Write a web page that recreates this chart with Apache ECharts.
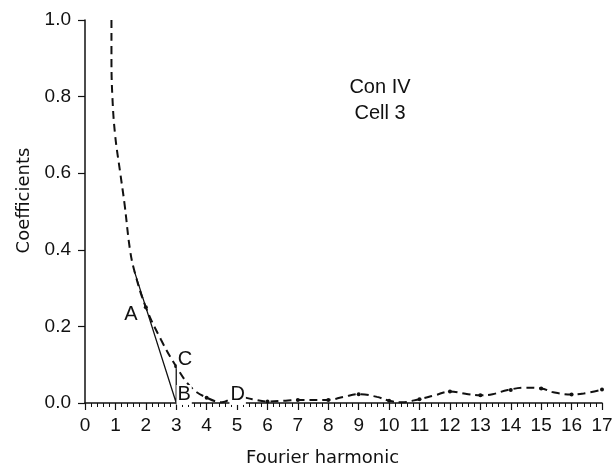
<!DOCTYPE html>
<html>
<head>
  <meta charset="utf-8" />
  <title>Fourier harmonic coefficients</title>
  <script src="https://cdn.jsdelivr.net/npm/echarts@6/dist/echarts.min.js"></script>
</head>
<style>
  html, body { margin: 0; padding: 0; background: #fff; }
  #chart { width: 616px; height: 468px; }
</style>
<body>
  <div id="chart"></div>
  <script>
    // dashed curve (harmonic, coefficient)
    var curveX = [0.87, 0.87, 0.9, 0.99, 1.16, 1.3, 1.48, 1.64, 2.0, 2.5, 3.0, 3.5, 4.0, 4.5, 5.0, 5.5, 6.0, 6.6, 7.0, 8.0, 8.5, 9.0, 9.6, 10.0, 10.4, 11.0, 11.5, 12.0, 12.6, 13.0, 13.4, 13.9, 14.5, 15.0, 15.4, 16.0, 16.4, 17.0];
    var curveY = [1.0, 0.9, 0.8, 0.7, 0.6, 0.52, 0.4, 0.34, 0.25, 0.165, 0.095, 0.04, 0.014, 0.002, 0.017, 0.01, 0.004, 0.006, 0.008, 0.008, 0.016, 0.023, 0.016, 0.006, 0.002, 0.01, 0.02, 0.03, 0.023, 0.02, 0.023, 0.034, 0.04, 0.038, 0.028, 0.022, 0.025, 0.035];
    // small dots on the curve
    var dotX = [2, 3, 4, 6, 7, 8, 9, 10, 11, 12, 13, 14, 15, 16, 17];
    var dotY = [0.25, 0.095, 0.014, 0.004, 0.008, 0.008, 0.023, 0.006, 0.01, 0.03, 0.02, 0.034, 0.038, 0.022, 0.035];
    // solid straight-line construction
    var lineX = [1.62, 3.0, 3.0];
    var lineY = [0.345, 0.0, 0.09];
    // letter labels
    var labelNames = ['A', 'B', 'C', 'D'];
    var labelX = [1.51, 3.26, 3.29, 5.02];
    var labelY = [0.231, 0.021, 0.114, 0.021];
    var xTicks = [0, 1, 2, 3, 4, 5, 6, 7, 8, 9, 10, 11, 12, 13, 14, 15, 16, 17];

    function pairs(xs, ys) {
      return xs.map(function (x, i) { return [x, ys[i]]; });
    }

    var font = 'Liberation Sans, Arial, sans-serif';
    var wideFont = 'DejaVu Sans, sans-serif';
    var chart = echarts.init(document.getElementById('chart'), null, { renderer: 'canvas' });

    chart.setOption({
      animation: false,
      backgroundColor: '#fff',
      grid: { left: 85, right: 14, top: 20, bottom: 65, containLabel: false, outerBoundsMode: 'none' },
      xAxis: {
        type: 'value',
        min: xTicks[0],
        max: xTicks[xTicks.length - 1],
        interval: 1,
        name: 'Fourier harmonic',
        nameLocation: 'middle',
        nameGap: 46,
        nameTextStyle: { fontFamily: wideFont, fontSize: 18, color: '#111', padding: [0, 42, 0, 0] },
        axisLine: { lineStyle: { color: '#111', width: 1.5 } },
        axisTick: { length: 7, lineStyle: { color: '#111', width: 1.2 } },
        minorTick: { show: true, splitNumber: 5, length: 4, lineStyle: { color: '#111', width: 1 } },
        axisLabel: { fontFamily: font, fontSize: 19, color: '#111', margin: 13 },
        splitLine: { show: false }
      },
      yAxis: {
        type: 'value',
        min: 0,
        max: 1,
        interval: 0.2,
        name: 'Coefficients',
        nameLocation: 'middle',
        nameGap: 52,
        nameTextStyle: { fontFamily: wideFont, fontSize: 18, color: '#111', padding: [0, 0, 0, 22] },
        axisLine: { show: true, lineStyle: { color: '#111', width: 1.5 } },
        axisTick: { show: true, length: 7, lineStyle: { color: '#111', width: 1.2 } },
        axisLabel: {
          fontFamily: font, fontSize: 19, color: '#111', margin: 14,
          formatter: function (v) { return v.toFixed(1); }
        },
        splitLine: { show: false }
      },
      series: [{
        type: 'line',
        data: pairs(curveX, curveY),
        smooth: 0.4,
        showSymbol: false,
        lineStyle: { color: '#111', width: 2, type: [8, 5] },
        z: 2
      }, {
        type: 'line',
        data: pairs(lineX, lineY),
        showSymbol: false,
        lineStyle: { color: '#111', width: 1.3 },
        z: 3
      }, {
        type: 'scatter',
        data: pairs(dotX, dotY),
        symbol: 'circle',
        symbolSize: 4,
        itemStyle: { color: '#111', opacity: 1 },
        z: 4
      }, {
        type: 'scatter',
        data: labelNames.map(function (n, i) { return { name: n, value: [labelX[i], labelY[i]] }; }),
        symbolSize: 0,
        itemStyle: { opacity: 1 },
        label: {
          show: true,
          position: 'inside',
          formatter: '{b}',
          fontFamily: font,
          fontSize: 20,
          color: '#111',
          opacity: 1,
          backgroundColor: '#fff',
          padding: [0, 1]
        },
        z: 5
      }],
      graphic: [{
        type: 'text',
        x: 380,
        y: 74,
        style: {
          text: 'Con IV\nCell 3',
          fontFamily: font,
          fontSize: 20,
          lineHeight: 26,
          fill: '#111',
          align: 'center',
          verticalAlign: 'top'
        }
      }]
    });
  </script>
</body>
</html>
